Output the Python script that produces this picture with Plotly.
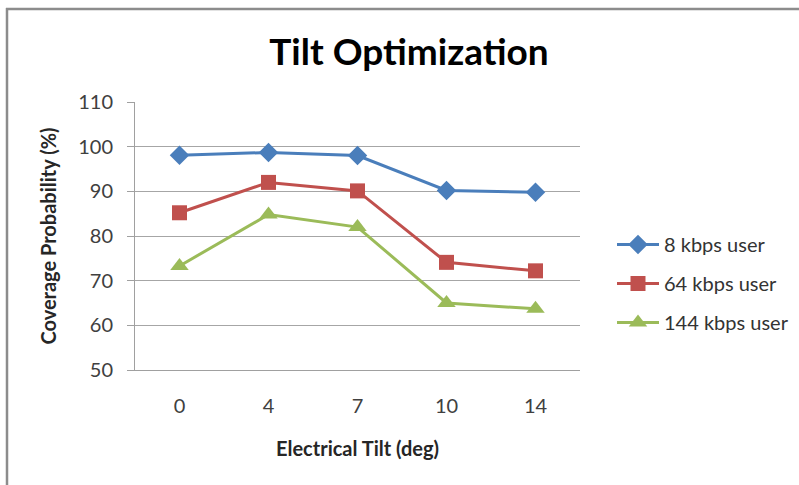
import plotly.graph_objects as go

# Electrical tilt settings (deg) and coverage probability (%) per user class
tilts = ["0", "4", "7", "10", "14"]
cov_8kbps = [98.1, 98.7, 98.0, 90.2, 89.8]
cov_64kbps = [85.2, 92.0, 90.1, 74.1, 72.2]
cov_144kbps = [73.3, 84.8, 82.0, 65.0, 63.7]
y_ticks = [50, 60, 70, 80, 90, 100, 110]

FONT = "Lato, 'Open Sans', sans-serif"

series = [
    ("8 kbps user", cov_8kbps, "#4A7EBB", "diamond", 15),
    ("64 kbps user", cov_64kbps, "#C0504D", "square", 15),
    ("144 kbps user", cov_144kbps, "#9BBB59", "triangle-up", 16),
]

fig = go.Figure()
for i, (name, vals, color, symbol, size) in enumerate(series):
    fig.add_trace(go.Scatter(
        x=tilts, y=vals, name=name, mode="lines+markers",
        legendgroup=f"g{i}",
        line=dict(color=color, width=3),
        marker=dict(symbol=symbol, size=size, color=color),
    ))

L, R, T, B = 135, 219, 102, 115
W, H = 799, 485
pw, ph = W - L - R, H - T - B

def px_x(px):
    return (px - L) / pw

def px_y(py):
    return (H - B - py) / ph

fig.update_layout(
    width=W, height=H,
    margin=dict(l=L, r=R, t=T, b=B, autoexpand=False),
    paper_bgcolor="white", plot_bgcolor="white",
    font=dict(family=FONT, color="#404040", size=20),
    title=dict(text="<b>Tilt Optimization</b>", x=px_x(409), xref="paper",
               xanchor="center", y=1 - 52 / H, yanchor="middle",
               font=dict(size=37, color="#000000", family=FONT)),
    showlegend=True,
    legend=dict(x=px_x(612), y=px_y(225), xanchor="left", yanchor="top",
                tracegroupgap=10, font=dict(size=20, color="#333333", family=FONT),
                bgcolor="rgba(0,0,0,0)", itemwidth=42),
    xaxis=dict(
        type="category", range=[-0.5, 4.5],
        showline=True, linecolor="#A0A0A0", linewidth=1,
        showgrid=False, ticks="", tickfont=dict(size=20, color="#404040"),
        ticklabelstandoff=18,
        title=dict(text="<b>Electrical Tilt (deg)</b>", standoff=25,
                   font=dict(size=20, color="#262626")),
    ),
    yaxis=dict(
        range=[50, 110], tickvals=y_ticks,
        showline=True, linecolor="#A0A0A0", linewidth=1,
        showgrid=True, gridcolor="#A6A6A6", gridwidth=1,
        ticks="outside", ticklen=7, tickcolor="#A0A0A0",
        ticklabelstandoff=10,
        tickfont=dict(size=20, color="#404040"),
        zeroline=False,
        title=dict(text="<b>Coverage Probability (%)</b>", standoff=16,
                   font=dict(size=20, color="#262626")),
    ),
)

# Outer frame lines along the top and left edges
fig.add_shape(type="line", xref="paper", yref="paper",
              x0=px_x(6), x1=px_x(W + 5), y0=px_y(9), y1=px_y(9),
              line=dict(color="#8C8C8C", width=2.5))
fig.add_shape(type="line", xref="paper", yref="paper",
              x0=px_x(7), x1=px_x(7), y0=px_y(8), y1=px_y(H + 5),
              line=dict(color="#8C8C8C", width=2.5))

fig.write_html("out.html")
